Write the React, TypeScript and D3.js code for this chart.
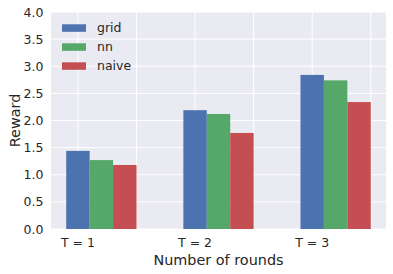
import React, { useEffect, useRef } from "react";
import * as d3 from "d3";

const GROUPS = ["T = 1", "T = 2", "T = 3"];
const SERIES = ["grid", "nn", "naive"];
const COLORS = ["#4C72B0", "#55A868", "#C44E52"];
const VALUES = [
  [1.44, 2.19, 2.84],
  [1.27, 2.12, 2.74],
  [1.18, 1.77, 2.34],
];
const Y_TICKS = [0, 0.5, 1, 1.5, 2, 2.5, 3, 3.5, 4];
const X_GRID = [0, 0.5, 1, 1.5, 2, 2.5];

const W = 393;
const H = 274;
const M = { left: 51, right: 7, top: 12, bottom: 45 };
const BAR = 0.2;
const FONT = "'DejaVu Sans'";
const TEXT = "#262626";

export default function App() {
  const ref = useRef<SVGSVGElement>(null);

  useEffect(() => {
    const svg = d3.select(ref.current);
    svg.selectAll("*").remove();

    const x = d3.scaleLinear().domain([-0.23, 2.63]).range([M.left, W - M.right]);
    const y = d3.scaleLinear().domain([0, 4]).range([H - M.bottom, M.top]);

    // background
    svg.append("rect")
      .attr("x", M.left).attr("y", M.top)
      .attr("width", W - M.left - M.right).attr("height", H - M.top - M.bottom)
      .attr("fill", "#EAEAF2");

    // grid
    svg.append("g").selectAll("line").data(Y_TICKS).join("line")
      .attr("x1", M.left).attr("x2", W - M.right)
      .attr("y1", d => y(d)).attr("y2", d => y(d))
      .attr("stroke", "#fff").attr("stroke-width", 1);
    svg.append("g").selectAll("line").data(X_GRID).join("line")
      .attr("x1", d => x(d)).attr("x2", d => x(d))
      .attr("y1", M.top).attr("y2", H - M.bottom)
      .attr("stroke", "#fff").attr("stroke-width", 1);

    // bars
    SERIES.forEach((s, si) => {
      svg.append("g").selectAll("rect").data(VALUES[si]).join("rect")
        .attr("x", (_, gi) => x(gi + si * BAR - BAR / 2))
        .attr("width", x(BAR) - x(0))
        .attr("y", d => y(d))
        .attr("height", d => y(0) - y(d))
        .attr("fill", COLORS[si]);
    });

    // y ticks
    svg.append("g").selectAll("text").data(Y_TICKS).join("text")
      .attr("x", M.left - 7.5).attr("y", d => y(d) + 4.5)
      .attr("text-anchor", "end")
      .attr("font-family", FONT).attr("font-size", 12.5).attr("fill", TEXT)
      .text(d => d.toFixed(1));

    // x ticks
    svg.append("g").selectAll("text").data(GROUPS).join("text")
      .attr("x", (_, i) => x(i)).attr("y", 247)
      .attr("text-anchor", "middle")
      .attr("font-family", FONT).attr("font-size", 12.5).attr("fill", TEXT)
      .text(d => d);

    // axis labels
    svg.append("text")
      .attr("x", (M.left + W - M.right) / 2).attr("y", 265)
      .attr("text-anchor", "middle")
      .attr("font-family", FONT).attr("font-size", 14.4).attr("fill", TEXT)
      .text("Number of rounds");
    svg.append("text")
      .attr("transform", `translate(19.5,${(M.top + H - M.bottom) / 2}) rotate(-90)`)
      .attr("text-anchor", "middle")
      .attr("font-family", FONT).attr("font-size", 14.4).attr("fill", TEXT)
      .text("Reward");

    // legend
    const lg = svg.append("g").attr("transform", `translate(62,24.3)`);
    SERIES.forEach((s, i) => {
      lg.append("rect")
        .attr("x", 0).attr("y", i * 19)
        .attr("width", 24).attr("height", 7.5)
        .attr("fill", COLORS[i]);
      lg.append("text")
        .attr("x", 35).attr("y", i * 19 + 8)
        .attr("font-family", FONT).attr("font-size", 12.5).attr("fill", TEXT)
        .text(s);
    });
  }, []);

  return (
    <svg ref={ref} width={W} height={H}
      style={{ position: "absolute", left: 0, top: 0, background: "#fff" }} />
  );
}
